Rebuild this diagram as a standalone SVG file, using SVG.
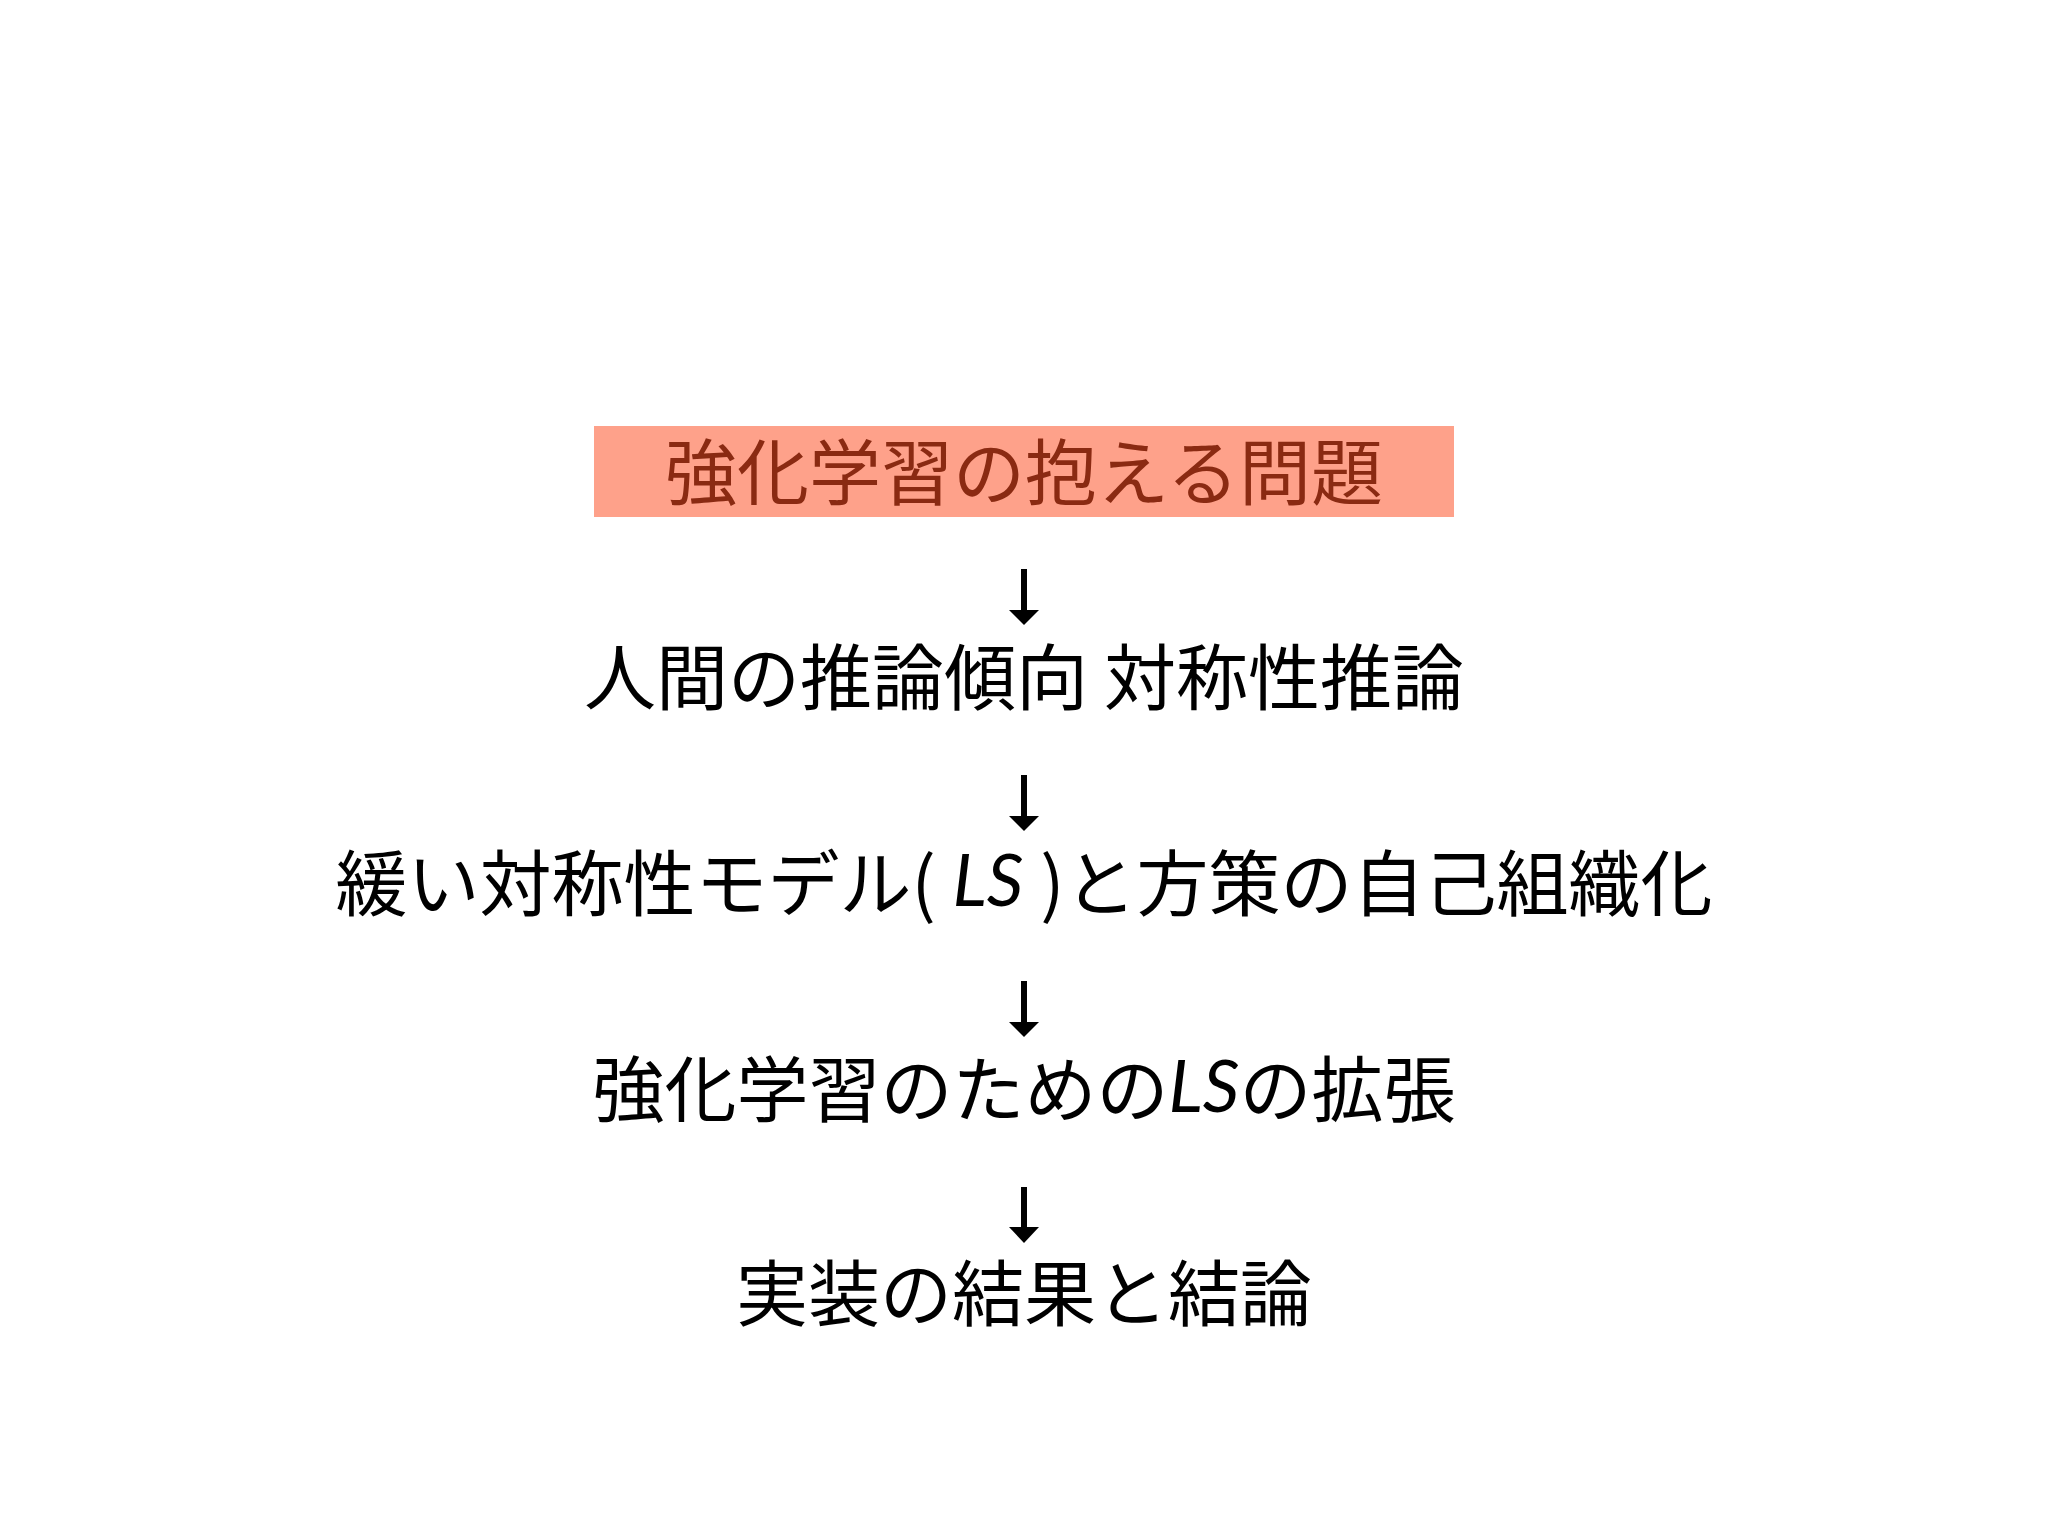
<svg xmlns="http://www.w3.org/2000/svg" width="2048" height="1536" viewBox="0 0 2048 1536">
<style>
.t{font-family:"Noto Sans CJK JP","Noto Sans",sans-serif;font-size:72px;text-anchor:middle;dominant-baseline:central;fill:#000}
.lat{font-family:"Lato","Noto Sans CJK JP",sans-serif;font-style:italic}
.shaft{stroke:#000;stroke-width:6;fill:none}
.head{fill:#000}
</style>
<rect width="2048" height="1536" fill="#fff"/>
<g id="node1">
<rect x="594" y="426" width="860" height="91" fill="#FEA18A"/>
<text class="t" x="1024" y="467" style="fill:#8A2A12">強化学習の抱える問題</text>
</g>
<g id="node2">
<text class="t" x="1024" y="672">人間の推論傾向 対称性推論</text>
</g>
<g id="node3">
<text class="t" x="1024" y="878">緩い対称性モデル(<tspan class="lat"> LS </tspan>)と方策の自己組織化</text>
</g>
<g id="node4">
<text class="t" x="1024" y="1084">強化学習のための<tspan class="lat">LS</tspan>の拡張</text>
</g>
<g id="node5">
<text class="t" x="1024" y="1288">実装の結果と結論</text>
</g>
<g id="connectors">
<path class="shaft" d="M1024,569 V611"/><path class="head" d="M1009,610 H1039 L1024,625 Z"/>
<path class="shaft" d="M1024,775 V817"/><path class="head" d="M1009,816 H1039 L1024,831 Z"/>
<path class="shaft" d="M1024,981 V1023"/><path class="head" d="M1009,1022 H1039 L1024,1037 Z"/>
<path class="shaft" d="M1024,1187 V1228"/><path class="head" d="M1009,1227 H1039 L1024,1243 Z"/>
</g>
</svg>
